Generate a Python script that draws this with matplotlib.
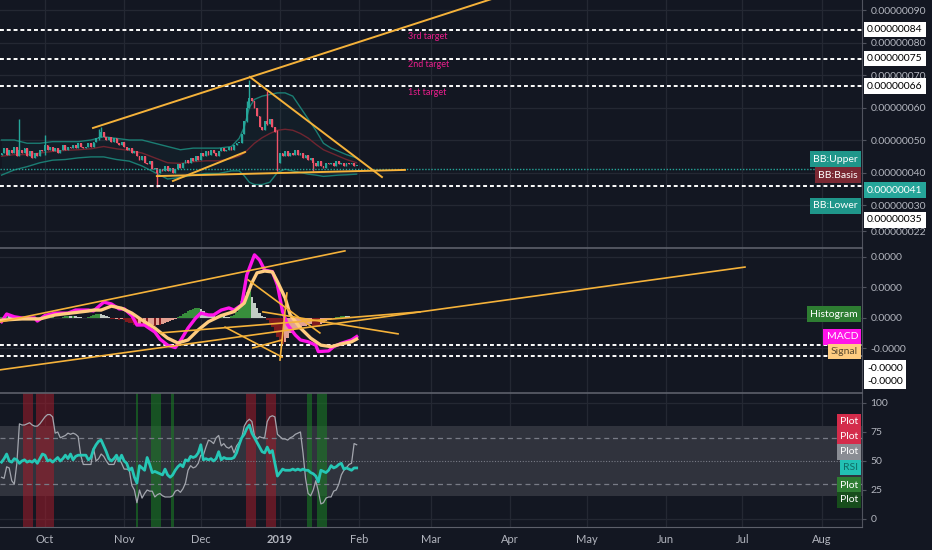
import matplotlib
matplotlib.use('Agg')
import matplotlib.pyplot as plt
from matplotlib.transforms import blended_transform_factory

# === Data (day 0 = 2018-10-01, prices in units of 1e-8) ===
first_day = -17
open_first = 45.5
closes = [46, 47.5, 45.5, 47, 46, 48, 45, 47, 46, 47.5,
          45, 46.5, 44.5, 46, 45, 47, 46.5, 48.5, 47, 48,
          46.5, 47.5, 46, 47, 48.5, 47, 48, 47.5, 48.5, 47.5,
          49, 48, 47.5, 48, 49, 48, 49.5, 50.5, 51, 52.5,
          51, 50, 51, 49.5, 50.5, 49, 48.5, 49.5, 48, 47,
          47.5, 46, 46.5, 45, 44, 45, 43, 42.5, 43.5, 41,
          41.5, 40, 41, 40.5, 42, 40.5, 41.5, 40, 41, 42.5,
          41.5, 43, 44, 43, 44.5, 43.5, 45, 44, 46, 45,
          46.5, 45.5, 47, 46, 45, 46.5, 47.5, 46.5, 47, 48,
          47, 48.5, 49, 49, 52, 56, 60, 63, 62, 60,
          57.5, 54, 53, 56, 55, 56.5, 54, 52.5, 43, 46,
          45, 46.5, 45, 46, 45.5, 47, 45.5, 46, 44.5, 45.5,
          44, 44.5, 43, 42, 43.5, 42, 41.5, 43, 42.5, 43,
          42, 43.5, 42.5, 43, 42, 43, 42.5, 43, 42, 42]
wicks = {-10: (45, 56.5), 0: (45.5, 51.5), 21: (50, 53.5), 22: (51, 54),
         44: (35.5, 41.5), 79: (55.5, 62), 80: (60, 68.5), 87: (54.5, 65),
         91: (40.5, 53), 105: (40.5, 44)}

bb_days = [-17, -12, -7, -2, 3, 8, 13, 18, 23, 28, 33, 38, 43, 48, 53, 58, 63, 68,
           73, 76, 78, 80, 82, 85, 88, 91, 94, 97, 100, 103, 106, 109, 112, 115, 118, 122]
bb_upper = [50, 50, 49, 49, 49.5, 49.5, 49.5, 50, 51, 50.5, 50, 50, 49, 48, 47, 47.5, 47.5, 47.5,
            48, 50.5, 54, 60, 62.5, 63.5, 64, 64.5, 64.5, 63.5, 60, 56.5, 53, 49, 47.5, 46.5, 45.5, 44.5]
bb_basis = [45, 45.5, 45.5, 46, 46.5, 46.8, 47, 47.3, 48, 47.3, 46.8, 46, 44.5, 43, 42.8, 43.3, 43.6, 43.6,
            44.3, 45, 46, 47.5, 49, 50.7, 52, 53, 53.3, 53, 52, 50.6, 48.7, 47, 46, 45, 44, 43]
bb_lower = [39.2, 40.8, 41.8, 43, 43.8, 44, 44.5, 44.8, 44.8, 44, 43.5, 42, 40, 38, 38.5, 39.2, 39.7, 39.7,
            40.5, 40.5, 39, 37, 36.3, 36.3, 37, 40, 41, 40.5, 40, 39.5, 39.2, 38.8, 39, 39.2, 39.3, 39.5]

macd_days = [-17, -15, -12, -9, -4, -3, 0, 4, 9, 12, 17, 19, 23, 26, 29, 31, 34, 36, 39, 40,
             43, 45, 48, 51, 53, 56, 59, 61, 64, 66, 69, 72, 74, 77, 79, 82, 84, 86, 89, 91,
             93, 95, 98, 100, 103, 106, 107, 111, 113, 116, 120, 122]
macd_vals = [-0.12, 0.13, 0.04, 0, 0, -0.10, 0.08, 0.16, 0.16, 0.26, 0.26, 0.23, 0.52, 0.46, 0.30, 0.30,
             0.08, -0.23, -0.23, -0.29, -0.46, -0.69, -0.89, -0.97, -0.75, -0.33, 0, 0.16, 0.10, 0.10,
             0.26, 0.33, 0.26, 0.43, 1.41, 2.07, 1.90, 1.57, 1.52, 1.08, 0.21, -0.23, -0.56, -0.72,
             -0.78, -0.89, -1.10, -1.08, -0.94, -0.83, -0.72, -0.61]
signal_days = [-17, -9, -2, 4, 10, 17, 19, 22, 26, 30, 34, 38, 43, 48, 52, 56, 60, 64, 69, 74,
               78, 81, 83, 86, 89, 91, 94, 96, 100, 104, 108, 112, 116, 120, 122]
signal_vals = [-0.07, -0.03, -0.03, 0.10, 0.16, 0.23, 0.26, 0.26, 0.39, 0.32, 0.16, -0.07, -0.33, -0.66,
               -0.82, -0.72, -0.39, -0.12, 0.08, 0.21, 0.49, 1.15, 1.48, 1.54, 1.51, 1.19, 0.66, 0.10,
               -0.33, -0.66, -0.89, -0.94, -0.85, -0.78, -0.69]
hist_vals = [0.03, 0.07, 0.09, 0.05, 0.02, 0, -0.01, -0.02, 0, 0.01,
             0.01, 0, -0.01, -0.02, 0, 0.01, 0.02, 0.02, 0.01, 0.01,
             0.02, 0.01, 0.0, 0.01, 0.03, 0.05, 0.06, 0.05, 0.06, 0.05,
             0.04, 0.02, 0.01, 0.01, 0.03, 0.06, 0.10, 0.13, 0.14, 0.12,
             0.09, 0.05, 0.02, -0.02, -0.04, -0.03, -0.05, -0.04, -0.08, -0.12,
             -0.15, -0.18, -0.22, -0.26, -0.24, -0.27, -0.25, -0.29, -0.27, -0.24,
             -0.27, -0.22, -0.24, -0.2, -0.17, -0.14, -0.1, -0.06, -0.02, 0.02,
             0.06, 0.12, 0.18, 0.22, 0.27, 0.3, 0.32, 0.33, 0.28, 0.22,
             0.16, 0.12, 0.08, 0.05, 0.04, 0.06, 0.07, 0.05, 0.04, 0.03,
             0.05, 0.1, 0.2, 0.35, 0.55, 0.72, 0.84, 0.87, 0.7, 0.5,
             0.32, 0.18, 0.08, 0.03, -0.05, -0.15, -0.3, -0.45, -0.62, -0.78,
             -0.84, -0.8, -0.65, -0.5, -0.42, -0.35, -0.33, -0.3, -0.27, -0.25,
             -0.23, -0.2, -0.25, -0.28, -0.3, -0.2, -0.15, -0.1, -0.06, -0.03,
             -0.01, 0.02, 0.04, 0.07, 0.08, 0.07, 0.05, 0.03, 0.02, 0.01]

rsi_vals = [49, 52, 56, 50, 49, 52, 51, 48, 50, 51,
            49, 50, 49, 51, 48, 52, 56, 55, 50, 51,
            49, 51, 53, 50, 52, 55, 52, 56, 51, 54,
            55, 55, 55, 55, 51, 53, 60, 64, 67, 68,
            63, 58, 52, 50, 52, 55, 50, 55, 50, 48,
            42, 44, 36, 31, 46, 44, 42, 53, 47, 40,
            41, 40, 39, 38, 43, 38, 36, 38, 42, 45,
            47, 45, 51, 50, 54, 53, 54, 57, 64, 51,
            52, 51, 52, 50, 52, 58, 51, 53, 52, 52,
            52, 53, 57, 64, 70, 73, 78, 81, 74, 70,
            66, 62, 58, 57, 62, 57, 59, 48, 37, 40,
            43, 42, 42, 42, 43, 42, 43, 42, 43, 42,
            42, 40, 39, 37, 32, 42, 41, 40, 42, 46,
            44, 45, 47, 48, 43, 44, 43, 42, 44, 44]
rsi2_vals = [36, 35, 45, 44, 33, 30, 48, 82, 81, 81,
             82, 83, 81, 80, 80, 82, 85, 88, 90, 90,
             88, 74, 75, 70, 71, 72, 74, 73, 74, 73,
             71, 55, 47, 47, 47, 47, 61, 50, 52, 56,
             54, 50, 47, 47, 47, 52, 52, 48, 43, 43,
             42, 29, 25, 14, 25, 18, 22, 25, 24, 24,
             19, 21, 22, 20, 19, 19, 19, 20, 24, 25,
             23, 26, 31, 42, 46, 44, 45, 48, 55, 55,
             62, 68, 67, 65, 70, 72, 63, 65, 62, 61,
             63, 57, 63, 66, 70, 80, 84, 86, 84, 72,
             69, 71, 70, 70, 84, 88, 89, 88, 73, 71,
             69, 69, 68, 70, 71, 73, 74, 75, 57, 35,
             22, 20, 25, 33, 24, 13, 14, 18, 19, 19,
             24, 25, 30, 38, 42, 44, 47, 48, 65, 64]
red_zones = [(-8, -5), (-3, 3), (79, 82), (87, 90)]
green_zones = [(36, 36), (42, 45), (50, 50), (103, 104), (107, 110)]

target_levels = [84, 75, 66.5]
target_names = ['3rd target', '2nd target', '1st target']
target_text_y = [82, 73.1, 64.5]
support_level = 35.8
last_price = 41
macd_levels = [-0.885, -1.25]

# trend lines as (day, value) pairs
price_lines = [((18.8, 182), (53.7, 95.2)), ((80.2, 131.9), (69.4, 38.6)),
               ((50.1, 78.3), (37.4, 46.3)), ((43.8, 140.9), (38.9, 40.8))]
macd_lines = [((-17.6, 117.4), (-0.13, 2.2)), ((-17.6, 274), (-1.70, 1.67)),
              ((85.3, 138.2), (0.20, -0.52)), ((79.5, 107.6), (1.25, -0.49)),
              ((45, 146.8), (-0.49, 0.2)), ((70.5, 92.8), (-0.3, -1.28)),
              ((81.4, 92.8), (-0.98, -0.72)), ((94.7, 92), (0.82, -1.38))]

month_days = [0, 31, 61, 92, 123, 151, 182, 212, 243, 273, 304]
month_labels = ['Oct', 'Nov', 'Dec', '2019', 'Feb', 'Mar', 'Apr', 'May', 'Jun', 'Jul', 'Aug']
price_ticks = [90, 80, 70, 60, 50, 40, 30, 22]
macd_ticks = [2, 1, 0, -1]
rsi_ticks = [100, 75, 50, 25, 0]

# === Style ===
BG = '#131722'
GRID = '#242833'
TXT = '#b2b5be'
AXC = '#50535e'
UP, DOWN = '#26a69a', '#ef5369'
ORANGE = '#f5b23a'
plt.rcParams['font.family'] = ['Lato', 'DejaVu Sans']

W, H = 932, 550
fig = plt.figure(figsize=(W / 100, H / 100), dpi=100, facecolor=BG)


def px_axes(top, bottom, right=862):
    return fig.add_axes([0, 1 - bottom / H, right / W, (bottom - top) / H])


ax1 = px_axes(0, 248)
ax2 = px_axes(248, 393)
ax3 = px_axes(393, 527)

for ax in (ax1, ax2, ax3):
    ax.set_facecolor(BG)
    ax.set_xlim(-17.6, 319.8)
    for d in month_days:
        ax.axvline(d, color=GRID, lw=0.9, zorder=0)
    for s in ('left', 'top', 'bottom'):
        ax.spines[s].set_visible(False)
    ax.spines['right'].set_color(AXC)
    ax.yaxis.tick_right()
    ax.tick_params(axis='y', colors=TXT, labelsize=7.5, length=3, color=AXC, pad=3)
    ax.set_xticks([])

ax1.set_ylim(16.77, 93.08)
ax2.set_ylim(-2.459, 2.295)
ax3.set_ylim(-6.9, 108.6)
for ax in (ax2, ax3):
    ax.spines['top'].set_visible(True)
    ax.spines['top'].set_color('#5d606b')
    ax.spines['top'].set_linewidth(1.2)
ax3.spines['bottom'].set_visible(True)
ax3.spines['bottom'].set_color('#5d606b')


def tag(ax, y, text, fc, tc='white', side='right', size=7.5):
    tr = blended_transform_factory(ax.transAxes, ax.transData)
    if side == 'right':
        x, ha = 1.0 + 5 / 862, 'left'
    else:
        x, ha = 1.0 - 4 / 862, 'right'
    ax.text(x, y, text, transform=tr, ha=ha, va='center', color=tc, fontsize=size,
            zorder=20, clip_on=False,
            bbox=dict(boxstyle='square,pad=0.3', fc=fc, ec='none'))


# === Main price panel ===
ax1.set_yticks(price_ticks)
ax1.set_yticklabels([f'{v * 1e-8:.8f}' for v in price_ticks])
for v in price_ticks:
    ax1.axhline(v, color=GRID, lw=0.9, zorder=0)

ax1.fill_between(bb_days, bb_lower, bb_upper, color='#26a69a', alpha=0.05, lw=0, zorder=1)
ax1.plot(bb_days, bb_upper, color='#1b7d73', lw=1, zorder=2)
ax1.plot(bb_days, bb_lower, color='#1b7d73', lw=1, zorder=2)
ax1.plot(bb_days, bb_basis, color='#6e2530', lw=1, zorder=2)

days = list(range(first_day, first_day + len(closes)))
opens = [open_first] + closes[:-1]
cols, lows, highs, bottoms, heights = [], [], [], [], []
for d, o, c in zip(days, opens, closes):
    lo, hi = wicks.get(d, (min(o, c), max(o, c)))
    cols.append(UP if c >= o else DOWN)
    lows.append(lo)
    highs.append(hi)
    bottoms.append(min(o, c))
    heights.append(max(abs(c - o), 0.3))
ax1.vlines(days, lows, highs, colors=cols, lw=1.0, zorder=3)
ax1.bar(days, heights, bottom=bottoms, width=0.72, color=cols, zorder=3)

for lv in target_levels + [support_level]:
    ax1.axhline(lv, color='white', lw=1.4, ls=(0, (2, 1.5)), zorder=4)
ax1.axhline(last_price, color='#26a69a', lw=1, ls=(0, (1, 1.2)), zorder=4)
for (xs, ys) in price_lines:
    ax1.plot(xs, ys, color=ORANGE, lw=1.4, zorder=5)
for name, ty in zip(target_names, target_text_y):
    ax1.text(142.1, ty, name, color='#e91e8c', fontsize=6.5, va='center', zorder=6)

tag(ax1, 84, '0.00000084', 'white', 'black')
tag(ax1, 75, '0.00000075', 'white', 'black')
tag(ax1, 66.6, '0.00000066', 'white', 'black')
tag(ax1, 34.6, '0.00000041', '#26a69a', 'white')
tag(ax1, 25.4, '0.00000035', 'white', 'black')
tag(ax1, 44.15, 'BB:Upper', '#1f968a', side='left')
tag(ax1, 39.2, 'BB:Basis', '#7a2833', side='left')
tag(ax1, 29.7, 'BB:Lower', '#1f968a', side='left')

# === MACD panel ===
ax2.set_yticks(macd_ticks)
ax2.set_yticklabels(['-0.0000' if t < 0 else '0.0000' for t in macd_ticks])
for t in macd_ticks:
    ax2.axhline(t, color=GRID, lw=0.9, zorder=0)

hdays = list(range(first_day, first_day + len(hist_vals)))
hcols = []
prev = 0
for h in hist_vals:
    if h >= 0:
        hcols.append('#388e3c' if h >= prev else '#c3cdc6')
    else:
        hcols.append('#7f1a1f' if h <= prev else '#e3a193')
    prev = h
ax2.bar(hdays, hist_vals, width=1.0, color=hcols, zorder=2)
for lv in macd_levels:
    ax2.axhline(lv, color='white', lw=1.4, ls=(0, (2, 1.5)), zorder=3)
ax2.plot(macd_days, macd_vals, color='#ff14e8', lw=2.4, zorder=4)
ax2.plot(signal_days, signal_vals, color='#ffcc80', lw=2.4, zorder=4)
for (xs, ys) in macd_lines:
    ax2.plot(xs, ys, color=ORANGE, lw=1.2, zorder=5)

tag(ax2, 0.13, 'Histogram', '#2e7d32', side='left')
tag(ax2, -0.62, 'MACD', '#ff14e8', side='left')
tag(ax2, -1.11, 'Signal', '#ffcc80', '#5a4a30', side='left')
tag(ax2, -1.64, '-0.0000', 'white', 'black')
tag(ax2, -2.07, '-0.0000', 'white', 'black')

# === RSI panel ===
ax3.set_yticks(rsi_ticks)
ax3.set_yticklabels([str(t) for t in rsi_ticks])
for t in rsi_ticks:
    ax3.axhline(t, color=GRID, lw=0.9, zorder=0)
ax3.axhspan(20, 80, color='#30333d', zorder=1, lw=0)
for a, b in red_zones:
    ax3.axvspan(a - 0.5, b + 0.5, color='#a31c2a', alpha=0.55, lw=0, zorder=2)
for a, b in green_zones:
    ax3.axvspan(a - 0.5, b + 0.5, color='#1b7a24', alpha=0.6, lw=0, zorder=2)
ax3.axhline(70, color='#787b86', lw=0.9, ls=(0, (4, 3)), zorder=3)
ax3.axhline(30, color='#787b86', lw=0.9, ls=(0, (4, 3)), zorder=3)
ax3.axhline(50, color='#787b86', lw=0.8, ls=(0, (1, 1.5)), zorder=3)
ax3.plot(days, rsi2_vals, color='#a3a6ae', lw=0.9, zorder=4)
ax3.plot(days, rsi_vals, color='#26c6b5', lw=2, zorder=5)

tag(ax3, 83.9, 'Plot', '#d42c4b', side='left')
tag(ax3, 70.7, 'Plot', '#d42c4b', side='left')
tag(ax3, 57.8, 'Plot', '#8a8d94', side='left')
tag(ax3, 44.2, 'RSI', '#22c1b3', '#0f6d66', side='left')
tag(ax3, 29.3, 'Plot', '#2e7d32', side='left')
tag(ax3, 16.4, 'Plot', '#174d1c', side='left')

ax3.set_xticks(month_days)
ax3.set_xticklabels(month_labels)
ax3.tick_params(axis='x', colors=TXT, labelsize=8, length=0, pad=5)
ax3.get_xticklabels()[3].set_fontweight('bold')

fig.savefig('out.png', dpi=100, facecolor=BG)
